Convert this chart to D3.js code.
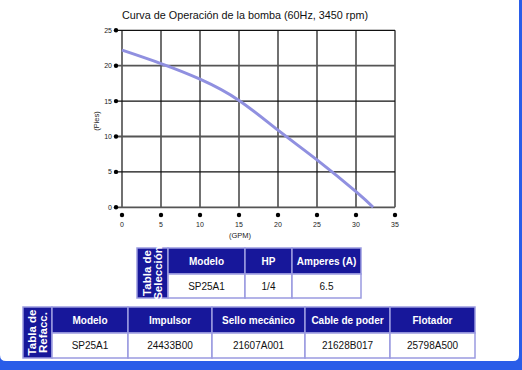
<!DOCTYPE html>
<html lang="en">
<head>
<meta charset="utf-8">
<title>Curva de Operación</title>
<script src="https://d3js.org/d3.v7.min.js"></script>
<style>
  body { margin: 0; background: #2a5de8; }
  svg { display: block; font-family: "Liberation Sans", Arial, sans-serif; }
</style>
</head>
<body>
<svg id="chart"></svg>
<script>
// curve data (GPM, Pies)
var gpm  = [0, 5, 10, 15, 20, 25, 30, 32.2];
var pies = [22.2, 20.3, 18.1, 15.1, 10.9, 6.7, 2.2, 0];
var xTicks = [0, 5, 10, 15, 20, 25, 30, 35];
var yTicks = [0, 5, 10, 15, 20, 25];

// tables
var selHeaders = ["Modelo", "HP", "Amperes (A)"];
var selValues  = ["SP25A1", "1/4", "6.5"];
var refHeaders = ["Modelo", "Impulsor", "Sello mecánico", "Cable de poder", "Flotador"];
var refValues  = ["SP25A1", "24433B00", "21607A001", "21628B017", "25798A500"];

var width = 522, height = 370;
var svg = d3.select("#chart").attr("width", width).attr("height", height);

// white panel
svg.append("path")
  .attr("d", "M0,0 H519 V355 Q519,361 513,361 H6 Q0,361 0,355 Z")
  .attr("fill", "#ffffff");

var x = d3.scaleLinear().domain([0, 35]).range([122, 395]);
var y = d3.scaleLinear().domain([0, 25]).range([207.3, 30.3]);

svg.append("text")
  .attr("x", 245).attr("y", 19)
  .attr("text-anchor", "middle")
  .attr("font-size", 10.8)
  .attr("fill", "#111")
  .text("Curva de Operación de la bomba (60Hz, 3450 rpm)");

// grid
var grid = svg.append("g");
grid.selectAll(".vl").data(xTicks).enter().append("line")
  .attr("x1", d => x(d)).attr("x2", d => x(d))
  .attr("y1", y(25)).attr("y2", y(0))
  .attr("stroke", "#111").attr("stroke-width", 1.2);
grid.selectAll(".hl").data(yTicks).enter().append("line")
  .attr("x1", 116).attr("x2", x(35))
  .attr("y1", d => y(d)).attr("y2", d => y(d))
  .attr("stroke", d => d % 10 == 0 ? "#555" : "#111")
  .attr("stroke-width", d => d % 10 == 0 ? 1.8 : 1.2);

// y tick dots + labels
svg.selectAll(".yd").data(yTicks).enter().append("circle")
  .attr("cx", 116).attr("cy", d => y(d)).attr("r", 2.2).attr("fill", "#000");
svg.selectAll(".yl").data(yTicks).enter().append("text")
  .attr("x", 112).attr("y", d => y(d) + 2.5)
  .attr("text-anchor", "end").attr("font-size", 7).attr("fill", "#222")
  .text(d => d);

// x tick dots + labels
svg.selectAll(".xd").data(xTicks).enter().append("circle")
  .attr("cx", d => x(d)).attr("cy", 215).attr("r", 2.2).attr("fill", "#000");
svg.selectAll(".xl").data(xTicks).enter().append("text")
  .attr("x", d => x(d)).attr("y", 226.5)
  .attr("text-anchor", "middle").attr("font-size", 7).attr("fill", "#222")
  .text(d => d);

svg.append("text")
  .attr("x", 240).attr("y", 237.5)
  .attr("text-anchor", "middle").attr("font-size", 7.5).attr("fill", "#222")
  .text("(GPM)");
svg.append("text")
  .attr("transform", "translate(99,121) rotate(-90)")
  .attr("text-anchor", "middle").attr("font-size", 7.5).attr("fill", "#222")
  .text("(Pies)");

// curve
var line = d3.line().x(d => x(d[0])).y(d => y(d[1])).curve(d3.curveNatural);
svg.append("path")
  .datum(d3.zip(gpm, pies))
  .attr("d", line)
  .attr("fill", "none")
  .attr("stroke", "#9090e0")
  .attr("stroke-width", 3);

// tables
function drawTable(left, top, labelW, colEdges, rowH1, rowH2, label, headers, values) {
  var g = svg.append("g");
  var h = rowH1 + rowH2;
  g.append("rect")
    .attr("x", left).attr("y", top).attr("width", labelW).attr("height", h)
    .attr("fill", "#17179a").attr("stroke", "#9a9ae0").attr("stroke-width", 1.5);
  var lt = g.append("text")
    .attr("transform", "translate(" + (left + labelW / 2) + "," + (top + h / 2) + ") rotate(-90)")
    .attr("text-anchor", "middle").attr("font-size", 11.5).attr("font-weight", "bold")
    .attr("fill", "#fff");
  lt.append("tspan").attr("x", 0).attr("dy", -1.5).text(label[0]);
  lt.append("tspan").attr("x", 0).attr("dy", 10.5).text(label[1]);

  headers.forEach(function(hd, i) {
    var x0 = colEdges[i], x1 = colEdges[i + 1];
    g.append("rect")
      .attr("x", x0).attr("y", top).attr("width", x1 - x0).attr("height", rowH1)
      .attr("fill", "#17179a").attr("stroke", "#9a9ae0").attr("stroke-width", 1.5);
    g.append("rect")
      .attr("x", x0).attr("y", top + rowH1).attr("width", x1 - x0).attr("height", rowH2)
      .attr("fill", "#fff").attr("stroke", "#9a9ae0").attr("stroke-width", 1.5);
    g.append("text")
      .attr("x", (x0 + x1) / 2).attr("y", top + rowH1 / 2 + 3.5)
      .attr("text-anchor", "middle").attr("font-size", 10).attr("font-weight", "bold")
      .attr("fill", "#fff").text(hd);
    g.append("text")
      .attr("x", (x0 + x1) / 2).attr("y", top + rowH1 + rowH2 / 2 + 3.5)
      .attr("text-anchor", "middle").attr("font-size", 10)
      .attr("fill", "#111").text(values[i]);
  });
}

drawTable(137, 248, 31, [168, 245, 292, 361], 26, 24,
  ["Tabla de", "Selección"], selHeaders, selValues);
drawTable(23, 307, 29, [52, 128, 212, 305, 390, 475], 26, 25,
  ["Tabla de", "Refacc."], refHeaders, refValues);
</script>
</body>
</html>
